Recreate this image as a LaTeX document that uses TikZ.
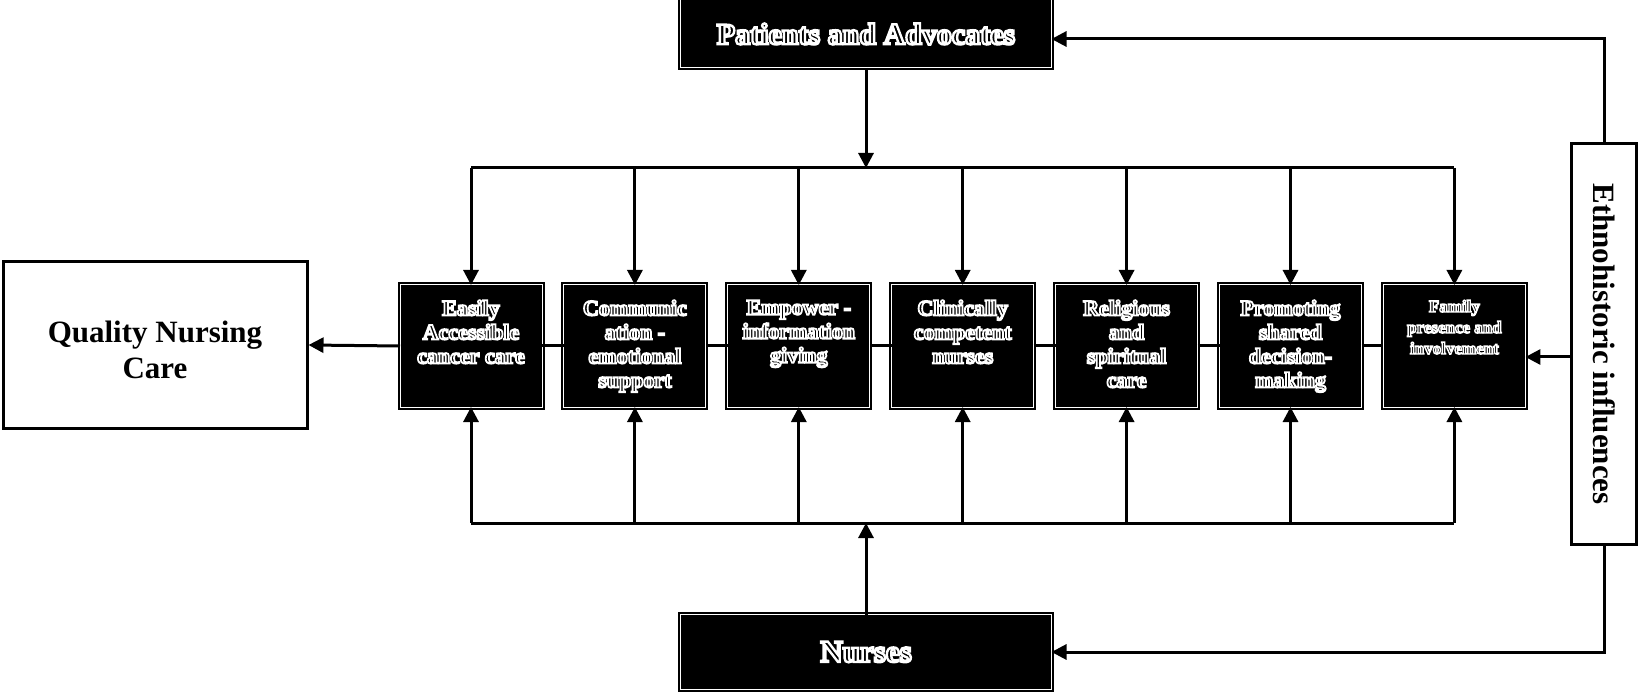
\documentclass[tikz,border=0pt]{standalone}
\usepackage{fontspec}
\setmainfont{Liberation Serif}
\usetikzlibrary{arrows.meta}
% outlined text: black fill, white stroke (falls back to white text)
\newcommand\wl[2][1.8]{\special{pdf:literal direct 0 g 1 G 2 Tr #1 w}#2\special{pdf:literal direct 0 Tr 1 g 1 G}}
\begin{document}
\begin{tikzpicture}[x=1pt,y=-1pt,
  conn/.style={line width=3pt},
  arr/.style={conn,-{Triangle[width=15pt,length=15pt]}},
  darkbox/.style={rectangle, fill=black, draw=black, line width=2pt, double=white, double distance=1pt, inner sep=0pt, outer sep=0pt},
  inbox/.style={darkbox, minimum width=142pt, minimum height=122pt},
  intext/.style={anchor=north, inner sep=0pt, align=center, text=white, font=\bfseries\fontsize{22}{24}\selectfont},
  whitebox/.style={rectangle, draw=black, line width=3pt, fill=white, inner sep=0pt},
  bigtext/.style={inner sep=0pt, align=center, font=\bfseries\fontsize{31}{36}\selectfont}
]
\useasboundingbox (0,0) rectangle (1638,692);
% main boxes
\node[darkbox, minimum width=371pt, minimum height=68pt] (pa) at (866,34) {};
\node[inner sep=0pt, text=white, font=\bfseries\fontsize{30}{34}\selectfont] (pat) at (pa.center) {\wl[2.4]{Patients and Advocates}};
\node[darkbox, minimum width=371pt, minimum height=75pt] (nu) at (866,652) {};
\node[inner sep=0pt, text=white, font=\bfseries\fontsize{31}{34}\selectfont] (nut) at (nu.center) {\wl[2.4]{Nurses}};
\node[whitebox, minimum width=304pt, minimum height=166pt] (qnc) at (155,345) {};
\node[bigtext] (qnct) at ([yshift=-5pt]qnc.center) {Quality Nursing\\Care};
\node[whitebox, minimum width=65pt, minimum height=401pt] (eth) at (1604,344) {};
\node[bigtext, rotate=-90] (etht) at (eth.center) {Ethnohistoric influences};
% inner boxes
\foreach \i in {1,...,7}{
  \node[inbox] (b\i) at ({471+163.9*(\i-1)},346) {};
}
\node[intext] (t1) at ([yshift=-15pt]b1.north) {\wl{Easily}\\\wl{Accessible}\\\wl{cancer care}};
\node[intext] (t2) at ([yshift=-15pt]b2.north) {\wl{Communic}\\\wl{ation -}\\\wl{emotional}\\\wl{support}};
\node[intext] (t3) at ([yshift=-15pt]b3.north) {\wl{Empower -}\\\wl{information}\\\wl{giving}};
\node[intext] (t4) at ([yshift=-15pt]b4.north) {\wl{Clinically}\\\wl{competent}\\\wl{nurses}};
\node[intext] (t5) at ([yshift=-15pt]b5.north) {\wl{Religious}\\\wl{and}\\\wl{spiritual}\\\wl{care}};
\node[intext] (t6) at ([yshift=-15pt]b6.north) {\wl{Promoting}\\\wl{shared}\\\wl{decision-}\\\wl{making}};
\node[intext, font=\bfseries\fontsize{17}{21}\selectfont] (t7) at ([yshift=-15pt]b7.north) {\wl[1.4]{Family}\\\wl[1.4]{presence and}\\\wl[1.4]{involvement}};
% buses
\coordinate (tb1) at (b1.north |- 0,168);
\coordinate (tb7) at (b7.north |- 0,168);
\coordinate (bb1) at (b1.south |- 0,523);
\coordinate (bb7) at (b7.south |- 0,523);
\draw[conn, line join=round] (tb1) -- (tb7);
\draw[conn, line join=round] (bb1) -- (bb7);
\foreach \i in {1,...,7}{
  \draw[arr] (b\i.north |- tb1) -- (b\i.north);
  \draw[arr] (b\i.south |- bb1) -- (b\i.south);
}
\draw[arr] (pa.south) -- (pa.south |- tb1);
\draw[arr] (nu.north) -- (nu.north |- bb1);
% chain
\foreach \i/\j in {1/2,2/3,3/4,4/5,5/6,6/7}{
  \draw[conn] (b\i.east) -- (b\j.west);
}
\draw[arr] (b1.west) -- (qnc.east);
% ethnohistoric links
\coordinate (e7) at ([yshift=-11pt]b7.east);
\coordinate (ep) at ([yshift=-5pt]pa.east);
\draw[arr] (e7 -| eth.west) -- (e7);
\draw[arr] (eth.north) -- (eth.north |- ep) -- (ep);
\draw[arr] (eth.south) -- (eth.south |- nu.east) -- (nu.east);
\end{tikzpicture}
\end{document}
